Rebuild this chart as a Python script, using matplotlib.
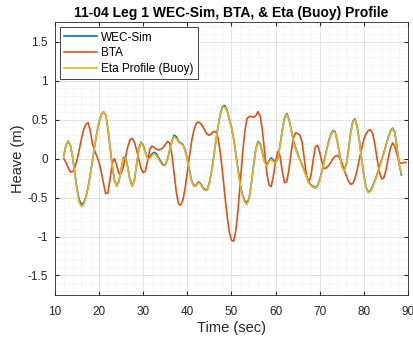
import numpy as np
import matplotlib.pyplot as plt
from matplotlib.ticker import MultipleLocator, FormatStrFormatter

plt.rcParams['font.family'] = ['Liberation Sans', 'DejaVu Sans']
plt.rcParams['axes.unicode_minus'] = False

# time base, 0.5 s samples
eta_t = np.arange(24, 178) / 2.0    # 12.0 .. 88.5 s
bta_t = np.arange(24, 180) / 2.0    # 12.0 .. 89.5 s

# Eta profile (buoy) - yellow
eta_h = [0.03, 0.17, 0.23, 0.17, 0.02, -0.20, -0.41, -0.56, -0.62, -0.59,
         -0.51, -0.38, -0.21, -0.03, 0.16, 0.33, 0.47, 0.56, 0.60, 0.56,
         0.39, 0.15, -0.11, -0.29, -0.36, -0.29, -0.14, 0.00, 0.01, -0.12,
         -0.28, -0.36, -0.28, -0.08, 0.12, 0.20, 0.16, 0.07, 0.00, 0.00,
         0.04, 0.06, 0.04, -0.01, -0.06, -0.09, -0.09, -0.02, 0.10, 0.21,
         0.28, 0.26, 0.21, 0.19, 0.17, 0.10, -0.02, -0.17, -0.30, -0.36,
         -0.35, -0.31, -0.33, -0.38, -0.41, -0.41, -0.32, -0.17, 0.02, 0.23,
         0.42, 0.57, 0.66, 0.66, 0.61, 0.51, 0.40, 0.25, 0.05, -0.17,
         -0.35, -0.48, -0.56, -0.59, -0.52, -0.33, -0.10, 0.11, 0.21, 0.18,
         0.07, -0.05, -0.10, -0.04, -0.01, -0.04, -0.06, 0.00, 0.16, 0.35,
         0.51, 0.57, 0.50, 0.37, 0.23, 0.13, 0.05, -0.02, -0.09, -0.16,
         -0.24, -0.31, -0.35, -0.37, -0.38, -0.36, -0.28, -0.17, -0.04, 0.09,
         0.21, 0.30, 0.35, 0.33, 0.21, 0.04, -0.10, -0.16, -0.09, 0.10,
         0.32, 0.47, 0.50, 0.39, 0.21, -0.02, -0.23, -0.38, -0.44, -0.42,
         -0.36, -0.29, -0.21, -0.12, -0.03, 0.06, 0.16, 0.26, 0.34, 0.38,
         0.33, 0.14, -0.07, -0.19]

# WEC-Sim - blue (almost hidden under the eta line)
wec_h = [0.03, 0.17, 0.22, 0.17, 0.02, -0.19, -0.39, -0.53, -0.59, -0.57,
         -0.50, -0.37, -0.21, -0.03, 0.16, 0.33, 0.47, 0.56, 0.60, 0.56,
         0.39, 0.15, -0.10, -0.28, -0.35, -0.29, -0.14, 0.01, 0.02, -0.11,
         -0.27, -0.35, -0.28, -0.08, 0.12, 0.21, 0.17, 0.08, 0.01, 0.02,
         0.06, 0.08, 0.06, 0.01, -0.04, -0.08, -0.08, -0.01, 0.11, 0.22,
         0.30, 0.28, 0.22, 0.20, 0.18, 0.11, -0.01, -0.16, -0.29, -0.35,
         -0.34, -0.30, -0.32, -0.37, -0.40, -0.40, -0.31, -0.16, 0.03, 0.24,
         0.43, 0.58, 0.67, 0.68, 0.62, 0.51, 0.40, 0.25, 0.05, -0.16,
         -0.34, -0.47, -0.54, -0.57, -0.51, -0.32, -0.09, 0.12, 0.22, 0.19,
         0.08, -0.04, -0.08, -0.03, 0.01, -0.02, -0.05, 0.01, 0.17, 0.36,
         0.52, 0.58, 0.51, 0.38, 0.24, 0.14, 0.06, -0.01, -0.08, -0.15,
         -0.23, -0.30, -0.34, -0.36, -0.37, -0.35, -0.27, -0.16, -0.03, 0.10,
         0.22, 0.31, 0.36, 0.34, 0.22, 0.05, -0.09, -0.15, -0.08, 0.11,
         0.33, 0.48, 0.51, 0.40, 0.22, -0.01, -0.22, -0.37, -0.43, -0.41,
         -0.35, -0.28, -0.20, -0.11, -0.02, 0.07, 0.17, 0.27, 0.35, 0.39,
         0.34, 0.14, -0.08, -0.21]

# BTA - orange
bta_h = [0.00, -0.05, -0.12, -0.17, -0.17, -0.12, -0.02, 0.11, 0.25, 0.37,
         0.44, 0.46, 0.36, 0.19, 0.10, 0.03, -0.05, -0.17, -0.32, -0.45,
         -0.44, -0.26, -0.06, 0.00, -0.09, -0.19, -0.19, -0.11, 0.02, 0.15,
         0.24, 0.26, 0.21, 0.11, -0.01, -0.12, -0.18, -0.16, -0.03, 0.12,
         0.16, 0.14, 0.12, 0.11, 0.12, 0.14, 0.18, 0.22, 0.20, 0.05,
         -0.19, -0.43, -0.58, -0.60, -0.53, -0.38, -0.17, 0.04, 0.23, 0.37,
         0.45, 0.47, 0.45, 0.41, 0.36, 0.31, 0.30, 0.32, 0.35, 0.34,
         0.25, 0.06, -0.19, -0.47, -0.73, -0.94, -1.05, -1.06, -0.92, -0.65,
         -0.30, 0.05, 0.34, 0.51, 0.54, 0.54, 0.53, 0.55, 0.60, 0.55,
         0.36, 0.09, -0.18, -0.34, -0.36, -0.22, -0.03, 0.09, 0.03, -0.16,
         -0.31, -0.30, -0.15, 0.07, 0.26, 0.33, 0.32, 0.30, 0.21, 0.00,
         -0.22, -0.31, -0.22, -0.02, 0.15, 0.17, 0.08, -0.05, -0.13, -0.12,
         -0.09, -0.05, 0.00, 0.03, 0.04, 0.01, -0.05, -0.14, -0.22, -0.29,
         -0.33, -0.32, -0.25, -0.14, 0.00, 0.13, 0.25, 0.32, 0.36, 0.37,
         0.32, 0.18, -0.01, -0.17, -0.26, -0.25, -0.15, 0.00, 0.13, 0.20,
         0.16, 0.05, -0.05, -0.06, -0.05, -0.05]

fig = plt.figure(figsize=(4.13, 3.41), dpi=100)
ax = fig.add_axes([0.133, 0.135, 0.855, 0.80])

ax.plot(eta_t, wec_h, color='#0072BD', lw=1.2, label='WEC-Sim')
ax.plot(bta_t, bta_h, color='#D95319', lw=1.2, label='BTA')
ax.plot(eta_t, eta_h, color='#EDB120', lw=1.2, label='Eta Profile (Buoy)')

ax.set_xlim(10, 90)
ax.set_ylim(-1.75, 1.75)
ax.xaxis.set_major_locator(MultipleLocator(10))
ax.xaxis.set_minor_locator(MultipleLocator(2))
ax.yaxis.set_major_locator(MultipleLocator(0.5))
ax.yaxis.set_minor_locator(MultipleLocator(0.1))
ax.yaxis.set_major_formatter(FormatStrFormatter('%g'))

ax.grid(True, which='major', color='#dedede', lw=0.6)
ax.grid(True, which='minor', color='#e6e6e6', lw=0.5, ls=':')
ax.set_axisbelow(True)
ax.tick_params(which='both', direction='in', top=True, right=True, colors='#262626',
               labelsize=8.5)
ax.tick_params(which='major', length=3)
ax.tick_params(which='minor', length=0)
ax.tick_params(axis='x', pad=8)
ax.tick_params(axis='y', pad=5)
for s in ax.spines.values():
    s.set_color('#262626')
    s.set_linewidth(0.6)

ax.set_title('11-04 Leg 1 WEC-Sim, BTA, & Eta (Buoy) Profile', fontsize=10,
             fontweight='bold', pad=4)
ax.set_xlabel('Time (sec)', fontsize=10.5, color='#262626', labelpad=2)
ax.set_ylabel('Heave (m)', fontsize=10.5, color='#262626', labelpad=2)

leg = ax.legend(loc='upper left', fontsize=8.5, fancybox=False, framealpha=1,
                edgecolor='#262626', handlelength=2.8, borderpad=0.35,
                labelspacing=0.3, handletextpad=0.3, borderaxespad=0.45)
leg.get_frame().set_linewidth(0.6)

fig.savefig('out.png', dpi=100)
